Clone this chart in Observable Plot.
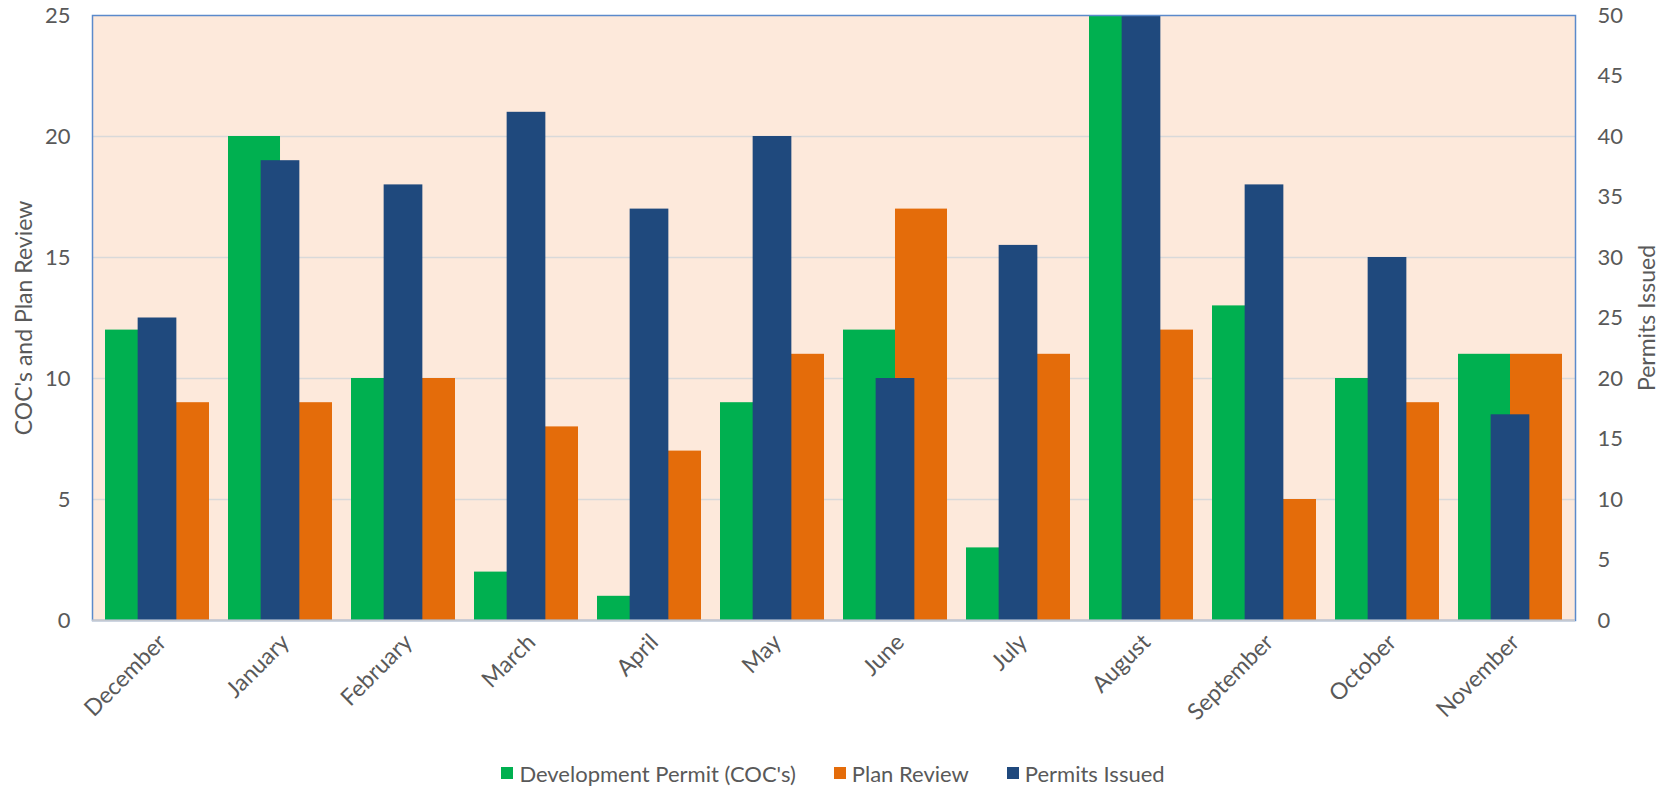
<!DOCTYPE html>
<html>
<head>
<meta charset="utf-8">
<script src="https://cdn.jsdelivr.net/npm/d3@7"></script>
<script src="https://cdn.jsdelivr.net/npm/@observablehq/plot@0.6"></script>
<style>
  html, body { margin: 0; padding: 0; background: #fff; }
  #chart svg { display: block; }
  #legend { display: flex; justify-content: center; align-items: center; height: 56px;
            font-family: Lato, sans-serif; font-size: 22px; color: #595959; }
  .item { display: flex; align-items: center; margin: 0 19px; }
  .sw { width: 12px; height: 12px; margin-right: 6px; }
</style>
</head>
<body>
<div id="chart"></div>
<div id="legend"></div>
<script>
const months = ["December","January","February","March","April","May","June","July","August","September","October","November"];
const devPermit = [12, 20, 10, 2, 1, 9, 12, 3, 25, 13, 10, 11];
const planReview = [9, 9, 10, 8, 7, 11, 17, 11, 12, 5, 9, 11];
const permitsIssued = [25, 38, 36, 42, 34, 40, 20, 31, 50, 36, 30, 17];
const seriesNames = ["Development Permit (COC's)", "Plan Review", "Permits Issued"];
const seriesColors = ["#00B050", "#E46C0A", "#1F497D"];
const leftTicks = [0, 5, 10, 15, 20, 25];
const rightTicks = [0, 5, 10, 15, 20, 25, 30, 35, 40, 45, 50];

const data = months.map((m, i) => ({month: m, dev: devPermit[i], plan: planReview[i], issued: permitsIssued[i]}));

const W = 1666, H = 745, mL = 92, mR = 91, mT = 15, mB = 125;
const pIn = 0.158, pOut = 0.083;
const step = (W - mL - mR) / (months.length - pIn + 2 * pOut);
const bw = step * (1 - pIn);
const half = bw / 2;
const blueW = 38.7;
const blueInset = (bw - blueW) / 2;
const ratio = 2; // right axis = 2 x left axis

const chart = Plot.plot({
  width: W, height: H,
  marginLeft: mL, marginRight: mR, marginTop: mT, marginBottom: mB,
  style: {fontFamily: "Lato, sans-serif", fontSize: "22px", color: "#595959", background: "#fff"},
  x: {domain: months, paddingInner: pIn, paddingOuter: pOut},
  y: {domain: [0, 25]},
  marks: [
    Plot.frame({fill: "#FDE9DB", stroke: null}),
    Plot.gridY([5, 10, 15, 20], {stroke: "#D9D9D9", strokeOpacity: 1, strokeWidth: 1.5}),
    Plot.barY(data, {x: "month", y: "dev", fill: seriesColors[0], insetRight: half}),
    Plot.barY(data, {x: "month", y: "plan", fill: seriesColors[1], insetLeft: half}),
    Plot.barY(data, {x: "month", y: d => d.issued / ratio, fill: seriesColors[2], insetLeft: blueInset, insetRight: blueInset}),
    Plot.frame({stroke: "#5B8ACB", strokeWidth: 1.5}),
    Plot.ruleY([0], {stroke: "#C4C8D0", strokeWidth: 2}),
    Plot.axisY(leftTicks, {anchor: "left", tickSize: 0, tickPadding: 22, label: null}),
    Plot.axisY(rightTicks.map(v => v / ratio), {anchor: "right", tickSize: 0, tickPadding: 22, tickFormat: d => d * ratio, label: null}),
    Plot.axisX({tickRotate: -45, tickSize: 0, tickPadding: 18, dx: 5, fontSize: 23, label: null}),
    Plot.text(["COC's and Plan Review"], {frameAnchor: "left", textAnchor: "middle", dx: -68, rotate: -90, fill: "#595959", fontSize: 23}),
    Plot.text(["Permits Issued"], {frameAnchor: "right", textAnchor: "middle", dx: 72, rotate: -90, fill: "#595959", fontSize: 23})
  ]
});
document.getElementById("chart").appendChild(chart);

const legend = document.getElementById("legend");
seriesNames.forEach((name, i) => {
  const it = document.createElement("div");
  it.className = "item";
  const sw = document.createElement("div");
  sw.className = "sw";
  sw.style.background = seriesColors[i];
  const tx = document.createElement("span");
  tx.textContent = name;
  it.appendChild(sw); it.appendChild(tx);
  legend.appendChild(it);
});
</script>
</body>
</html>
